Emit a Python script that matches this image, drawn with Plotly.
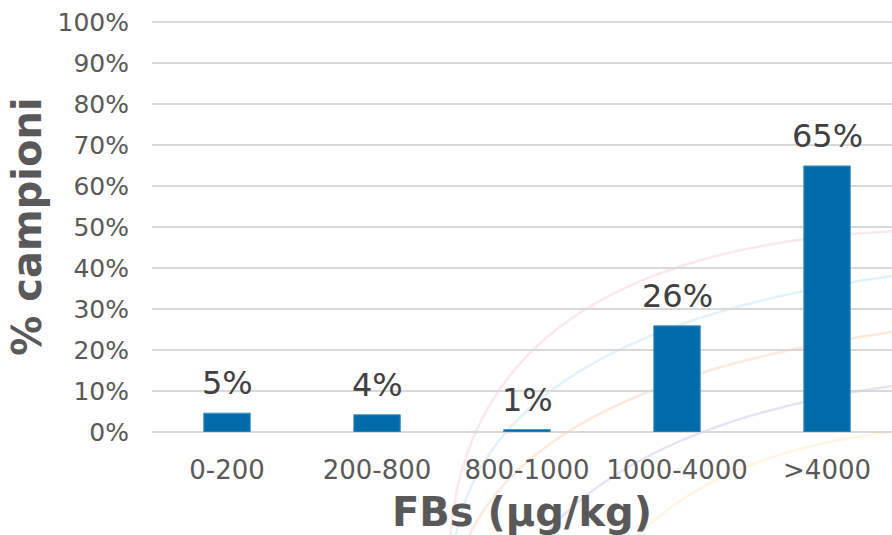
import plotly.graph_objects as go

categories = ["0-200", "200-800", "800-1000", "1000-4000", ">4000"]
values = [4.6, 4.2, 0.6, 25.9, 64.9]
y_ticks = list(range(0, 101, 10))
y_tick_labels = [f"{v}%" for v in y_ticks]

FONT = "DejaVu Sans, Verdana, sans-serif"

W, H = 892, 535
ML, MR, MT, MB = 152, 0, 21, 103
PW, PH = W - ML - MR, H - MT - MB


def px(x, y):
    """page pixel -> paper coordinates"""
    return (x - ML) / PW, (H - y - MB) / PH


def arc(p0, c, p1):
    a, b, d = px(*p0), px(*c), px(*p1)
    return f"M {a[0]:.4f},{a[1]:.4f} Q {b[0]:.4f},{b[1]:.4f} {d[0]:.4f},{d[1]:.4f}"


deco = [
    (((450, 540), (470, 250), (900, 231)), "rgba(232,150,170,0.22)"),
    (((455, 540), (490, 330), (900, 275)), "rgba(120,190,232,0.22)"),
    (((467, 540), (540, 380), (900, 331)), "rgba(240,160,110,0.22)"),
    (((540, 540), (640, 420), (900, 385)), "rgba(140,130,200,0.22)"),
    (((633, 540), (720, 450), (900, 431)), "rgba(250,215,120,0.22)"),
]
shapes = [
    dict(type="path", path=arc(*pts), xref="paper", yref="paper",
         line=dict(color=col, width=2.5), layer="below")
    for pts, col in deco
]

fig = go.Figure(
    go.Bar(
        x=categories,
        y=values,
        width=0.31,
        marker=dict(color="#006BAA", line=dict(color="#4A95C8", width=1)),
        hoverinfo="skip",
    )
)

annotations = [
    dict(x=c, y=v, text=f"{v:.0f}%", showarrow=False, yanchor="bottom", yshift=9,
         font=dict(family=FONT, size=32, color="#404040"))
    for c, v in zip(categories, values)
]

fig.update_layout(
    width=W,
    height=H,
    margin=dict(l=ML, r=MR, t=MT, b=MB, pad=0),
    paper_bgcolor="white",
    plot_bgcolor="rgba(0,0,0,0)",
    showlegend=False,
    font=dict(family=FONT, color="#595959"),
    shapes=shapes,
    annotations=annotations,
    xaxis=dict(
        range=[-0.5, 4.433],
        showgrid=False,
        showline=False,
        ticks="",
        ticklabelstandoff=20,
        tickfont=dict(family=FONT, size=26, color="#595959"),
        title=dict(text="<b>FBs (µg/kg)</b>", font=dict(family=FONT, size=40, color="#595959"), standoff=15),
    ),
    yaxis=dict(
        range=[0, 100.25],
        tickvals=y_ticks,
        ticktext=y_tick_labels,
        showgrid=True,
        gridcolor="#D9D9D9",
        gridwidth=2,
        zeroline=True,
        zerolinecolor="#D9D9D9",
        zerolinewidth=2,
        showline=False,
        ticks="",
        ticklabelstandoff=22,
        tickfont=dict(family=FONT, size=25, color="#595959"),
        title=dict(text="<b>% campioni</b>", font=dict(family=FONT, size=40, color="#595959"), standoff=3),
    ),
)

fig.write_html("out.html", config={"displayModeBar": False},
               post_script="document.body.style.margin='0';")
